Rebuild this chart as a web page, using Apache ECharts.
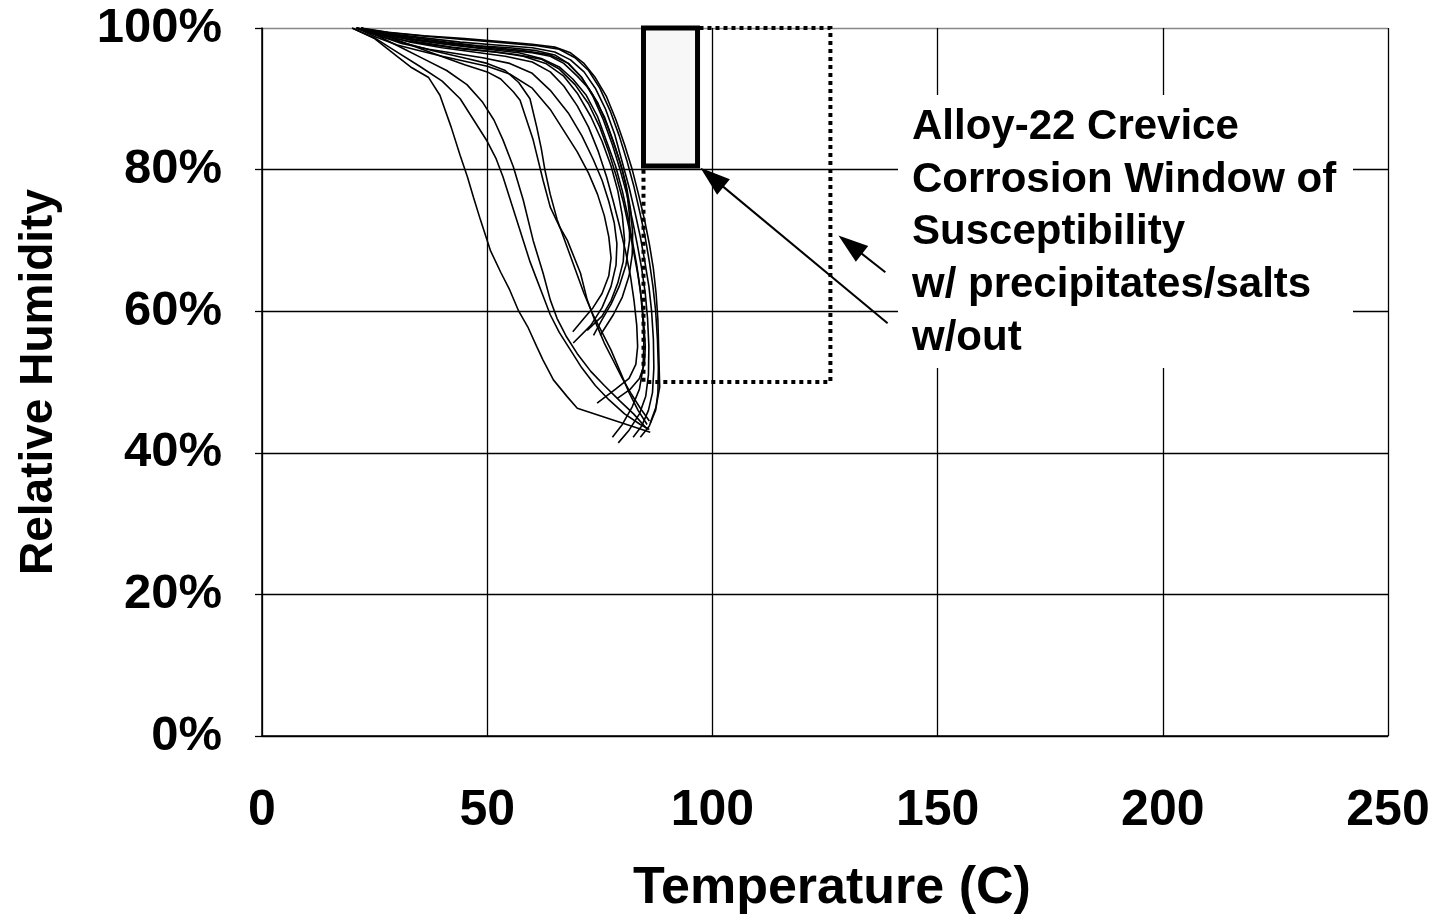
<!DOCTYPE html>
<html>
<head>
<meta charset="utf-8">
<script src="https://cdn.jsdelivr.net/npm/echarts@6/dist/echarts.min.js"></script>
<style>
html,body{margin:0;padding:0;background:#fff;}
#chart{width:1435px;height:914px;}
</style>
</head>
<body>
<div id="chart"></div>
<script>
// ---- axis ticks ----
const xTicks = [0, 50, 100, 150, 200, 250];
const yTicks = [0, 20, 40, 60, 80, 100];

// ---- temperature (C) / relative humidity (%) paths ----
const curveA = [[20,100],[25,98.5],[30,96],[33,94.5],[37,93],[39.5,90.5],[42,86],[44,82],[45.6,79],[47,76],[48.5,72.9],[50.7,68.6],[53,65.5],[55,63],[57,60],[59,57.8],[61,55],[62.4,53.1],[64.7,50.3],[67.8,47.9],[70,46.3],[86.2,42.9]];
const curveM1 = [[20,100],[25,98.6],[30,96.6],[35,94.6],[40,92.5],[44,90],[47,87],[50,84],[52,81.5],[53.5,79],[55,76],[56.5,73],[58,70],[59.5,67],[61,64.5],[62.5,62],[64,59.5],[66,57],[68.5,54.5],[71,52],[74,49.5],[77,47.5],[80.5,45.5],[84,44],[86,43.3]];
const curveM2 = [[21,100],[26,98.8],[31,97.2],[36,95.6],[41,94],[45.5,92],[49,89.5],[51.5,87],[53.5,84.2],[55.8,80.4],[58,75.7],[60.2,70],[62.4,65.4],[64,61.6],[65.5,59],[67.5,56.5],[70,54],[73,51.5],[76,49.5],[79.5,47.3],[82.5,45.5],[85.6,43.3]];
const curveM3 = [[22,100],[27,99],[33,97.6],[39,96.2],[45,94.8],[50,93.8],[53,92.8],[55.8,91],[57.3,89.8],[60.2,84.2],[62.4,78.5],[64,74.7],[66,72],[67.8,70],[70.7,65.4],[72.2,61.6],[74,58.5],[76,55.5],[78,53],[80,50.5],[82,48.3],[84,46.3],[86,44.5]];
const curveM4 = [[21,100],[26,98.9],[32,97.8],[38,96.8],[44,95.9],[50,95],[54,94],[57,92.3],[59.5,90],[61,86],[62,83],[62.8,80],[64,76.5],[65.5,73],[67.5,69.5],[69.5,66],[71.5,62.5],[73.5,59.5],[75.5,57],[77.5,54.5],[79.5,51.5],[81.5,48.5],[83.5,46],[85.5,44]];
const curveS1 = [[21,100],[25,98.8],[30,97.6],[35,96.8],[40,96],[45,95.3],[50,94.6],[55,93.5],[60,91.5],[64,88.5],[67,85.5],[70,82.5],[72.5,79.5],[74.5,76.5],[76,73.5],[77,70.5],[77.5,67.5],[77,65],[75.5,62.5],[73.5,60.5],[71.5,59],[69,57.1]];
const curveS2 = [[22,100],[26,98.9],[31,97.8],[37,97],[43,96.4],[49,95.8],[55,95],[60,93.6],[64,91.2],[68,88],[71,84.8],[73.5,81.5],[75.5,78.5],[77,75.5],[78.2,72.5],[78.8,69.5],[78.6,66.5],[77.5,63.5],[75.5,60.5],[73,58],[69.1,55.5]];
const curveS3 = [[21,100],[26,99],[32,98.2],[38,97.6],[45,97],[52,96.6],[58,96],[63,95],[67,93.2],[70,90.8],[73,87.5],[75.5,84],[77.5,80.5],[79,77],[80,73.5],[80.5,70],[80.2,67],[79,64],[77.5,61.5],[75.5,59.3],[72.2,57.3]];
const curveS4 = [[22,100],[27,99],[33,98.4],[40,97.8],[47,97.3],[54,96.9],[60,96.5],[64,96],[67,95],[70,93.2],[72.5,91.5],[74.5,89.5],[76.5,86.5],[78.5,83],[80,80],[81,77],[81.6,73.5],[81.6,70],[80.8,66.5],[79.3,63.5],[77.5,61],[75.5,58.8],[73.6,56.6]];
const curveS5 = [[21,100],[27,99.2],[34,98.6],[41,98],[48,97.5],[55,97.2],[61,96.8],[65,96.2],[68,95],[71,93],[73.5,90.5],[76,87.5],[78,84],[79.5,81],[80.8,78],[81.8,74.5],[82.3,71],[82.2,68],[81.5,65],[80,62],[78,59.5],[75.1,56.6]];
const curveD1 = [[22,100],[28,99],[35,98.2],[42,97.6],[50,97],[57,96.5],[62,95.7],[66,94.5],[69,92.8],[72,90.5],[74.5,87.5],[76.5,84],[78.5,80.5],[80,77],[81.2,73.5],[82.2,70],[83.2,66.5],[84,63],[84.5,59.5],[84.8,56],[84.6,52],[83.8,49],[82.2,46.5],[80,44],[77.8,42.2]];
const curveD2 = [[21,100],[27,99.1],[34,98.4],[42,97.8],[50,97.3],[58,96.8],[64,96.2],[68,95],[71,93],[73.5,90.3],[75.8,87],[77.8,83.5],[79.5,80],[81,76.5],[82.2,73],[83.3,69.5],[84.3,66],[85.1,62.5],[85.6,59],[85.9,55],[85.8,51],[85.2,48],[83.8,45.5],[81.5,43.2],[79.1,41.4]];
const curveD3 = [[22,100],[28,99.2],[36,98.6],[44,98],[52,97.6],[60,97.2],[65,96.6],[68.5,95.5],[71.5,93.8],[74,91.5],[76.3,88.5],[78.3,85],[80,81],[81.5,77.5],[82.8,74],[84,70.5],[85,67],[85.9,63.5],[86.5,60],[86.9,56],[87,52],[86.7,48.5],[85.8,46],[84.3,43.8],[82.4,42.2]];
const curveD4 = [[21,100],[29,99.3],[37,98.8],[46,98.3],[54,97.9],[61,97.5],[66,97],[69.5,95.8],[72.5,94],[75,91.5],[77.3,88.3],[79.3,84.8],[81,81.3],[82.5,77.8],[83.8,74.2],[85,70.7],[86,67],[86.8,63.5],[87.4,60],[87.8,56],[88,52],[87.9,48.5],[87.4,46],[86,43.8],[84,42.2]];
const curveD5 = [[22,100],[27,99],[33,98],[40,97.2],[47,96.6],[54,96],[60,95.2],[64,93.8],[67,91.8],[70,89],[72.5,86],[74.7,82.5],[76.5,79],[78,75.5],[79.4,72],[80.7,68.5],[81.8,65],[82.6,61.5],[83.2,58],[83.4,55],[83,52.5],[81.5,50.5],[78.5,49],[74.4,47]];
const curveD6 = [[21,100],[28,99],[35,98],[42,97.3],[49,96.8],[56,96.3],[62,95.6],[66,94.2],[69.5,92],[72.5,89.3],[75,86],[77,82.5],[78.7,79],[80.2,75.5],[81.4,72],[82.5,68.5],[83.5,65],[84.3,61.5],[84.8,58],[85.1,55],[84.9,52.5],[83.8,50.5],[81.8,49],[78.9,47.7]];
const curveD7 = [[22,100],[28,99.4],[36,98.9],[45,98.5],[53,98.1],[60,97.7],[65,97.3],[68.5,96.5],[71.5,95],[74,93],[76.5,90.3],[78.6,87],[80.5,83.5],[82.2,80],[83.6,76.5],[84.9,73],[86,69.5],[86.9,66],[87.5,62.5],[87.9,58.8],[88.1,54],[88.3,49.3],[87.5,46.5],[86.2,44.2]];

const curves = [curveA, curveM1, curveM2, curveM3, curveM4, curveS1, curveS2, curveS3, curveS4, curveS5,
                curveD1, curveD2, curveD3, curveD4, curveD5, curveD6, curveD7];

// ---- windows of susceptibility [Tmin, Tmax, RHmin, RHmax] ----
const windowWithPrecip = [84.7, 96.7, 80.5, 100];
const windowWithout = [84.7, 126.2, 50, 100];

// ---- arrows [from, to] in (T, RH) ----
const arrowWithPrecip = [[138.9, 58.3], [99.9, 78.9]];
const arrowWithout = [[138.4, 65.5], [130.6, 69.4]];

const annotationLines = ['Alloy-22 Crevice', 'Corrosion Window of', 'Susceptibility', 'w/ precipitates/salts', 'w/out'];

const FONT = '"Liberation Sans", Arial, Helvetica, sans-serif';

const chart = echarts.init(document.getElementById('chart'), null, {renderer: 'canvas'});

const series = [];
series.push({
  type: 'line', data: [], silent: true, z: 1,
  markArea: {
    silent: true,
    itemStyle: {color: 'rgba(0,0,0,0)', borderColor: '#000', borderWidth: 4, borderType: [4, 4]},
    data: [[{coord: [windowWithout[0], windowWithout[3]]}, {coord: [windowWithout[1], windowWithout[2]]}]]
  }
});
series.push({
  type: 'line', data: [], silent: true, z: 2,
  markArea: {
    silent: true,
    itemStyle: {color: '#f7f7f7', borderColor: '#000', borderWidth: 5},
    data: [[{coord: [windowWithPrecip[0], windowWithPrecip[3]]}, {coord: [windowWithPrecip[1], windowWithPrecip[2]]}]]
  }
});
curves.forEach(function (c) {
  series.push({
    type: 'line', data: c, showSymbol: false, symbol: 'none', silent: true, z: 3,
    lineStyle: {color: '#000', width: 1.6}
  });
});
series.push({
  type: 'line', data: [], silent: true, z: 4,
  markLine: {
    silent: true,
    symbol: ['none', 'triangle'],
    symbolSize: [20, 30],
    label: {show: false},
    lineStyle: {color: '#000', width: 2, type: 'solid'},
    data: [
      [{coord: arrowWithPrecip[0]}, {coord: arrowWithPrecip[1]}],
      [{coord: arrowWithout[0]}, {coord: arrowWithout[1]}]
    ]
  }
});

chart.setOption({
  animation: false,
  backgroundColor: '#fff',
  grid: {left: 262, right: 47, top: 28, bottom: 178, containLabel: false, outerBoundsMode: 'none'},
  xAxis: {
    type: 'value', min: xTicks[0], max: xTicks[xTicks.length - 1], interval: 50,
    name: 'Temperature (C)', nameLocation: 'middle', nameGap: 127,
    nameTextStyle: {fontFamily: FONT, fontWeight: 'bold', fontSize: 52, color: '#000', padding: [0, 0, 0, 14]},
    axisLine: {show: true, lineStyle: {color: '#000', width: 1.5}},
    axisTick: {show: false},
    axisLabel: {fontFamily: FONT, fontWeight: 'bold', fontSize: 50, color: '#000', margin: 50},
    splitLine: {show: true, lineStyle: {color: '#000', width: 1.3}}
  },
  yAxis: {
    type: 'value', min: yTicks[0], max: yTicks[yTicks.length - 1], interval: 20,
    name: 'Relative Humidity', nameLocation: 'middle', nameGap: 200, nameRotate: 90,
    nameTextStyle: {fontFamily: FONT, fontWeight: 'bold', fontSize: 46, color: '#000'},
    axisLine: {show: true, lineStyle: {color: '#000', width: 1.5}},
    axisTick: {show: true, inside: false, length: 7, lineStyle: {color: '#000', width: 1.3}},
    axisLabel: {fontFamily: FONT, fontWeight: 'bold', fontSize: 49, color: '#000', margin: 40,
                padding: [7, 0, 0, 0], formatter: '{value}%'},
    splitLine: {show: true, lineStyle: {color: ['#000', '#000', '#000', '#000', '#000', '#888'], width: 1.3}}
  },
  graphic: [
    {type: 'rect', z: 100, shape: {x: 898, y: 95, width: 455, height: 273}, style: {fill: '#fff'}},
    {type: 'text', z: 101, left: 912, top: 101,
     style: {text: annotationLines.join('\n'), font: 'bold 42px ' + FONT, fill: '#000', lineHeight: 52.7}}
  ],
  series: series
});
</script>
</body>
</html>
